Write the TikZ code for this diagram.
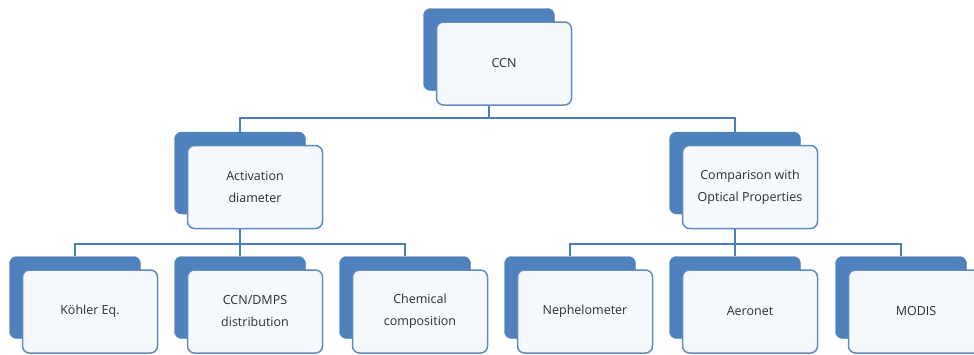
\documentclass[tikz,border=0pt]{standalone}
\usepackage{fontspec}
\setmainfont{Open Sans}
\definecolor{backblue}{HTML}{4F81BD}
\definecolor{frontline}{HTML}{5F8AC4}
\definecolor{frontfill}{HTML}{F5F8FC}
\definecolor{linkblue}{HTML}{4A7EBB}
\definecolor{textgray}{HTML}{2E2E2E}
\begin{document}
\begin{tikzpicture}[x=1pt,y=-1pt,
    backbox/.style={draw=backblue,fill=backblue,rounded corners=7pt,
      minimum width=131pt,minimum height=82pt},
    frontbox/.style={draw=frontline,fill=frontfill,line width=1.5pt,
      rounded corners=7pt,minimum width=135pt,minimum height=83pt,
      align=center,text=textgray,font=\fontsize{12.5}{22}\selectfont},
    link/.style={draw=linkblue,line width=2pt}]
    \useasboundingbox (0,0) rectangle (974,354);
    \foreach \n/\x/\y/\t in {ccn/504/63.5/CCN,
      act/255/187/{Activation\\diameter},
      cmp/750/187/{Comparison with\\Optical Properties},
      koh/90/311.5/{K\"ohler Eq.},
      dmp/255/311.5/{CCN/DMPS\\distribution},
      chm/420/311.5/{Chemical\\composition},
      nep/585/311.5/Nephelometer,
      aer/750/311.5/Aeronet,
      mod/916/311.5/MODIS}
    {
    \node[backbox] (\n b) at (\x-15,\y-14) {};
    \node[frontbox] (\n) at (\x,\y) {\t};
    }
    \coordinate (busa) at (0,118);
    \coordinate (busb) at (0,244);
    \draw[link] (ccnb.center |- ccn.south) -- (ccnb.center |- busa);
    \draw[link] (actb.north) -- (actb.north |- busa) -- (cmpb.north |- busa) -- (cmpb.north);
    \draw[link] (actb.center |- act.south) -- (dmpb.north);
    \draw[link] (kohb.north) -- (kohb.north |- busb) -- (chmb.north |- busb) -- (chmb.north);
    \draw[link] (cmpb.center |- cmp.south) -- (aerb.north);
    \draw[link] (nepb.north) -- (nepb.north |- busb) -- (modb.north |- busb) -- (modb.north);
  \end{tikzpicture}
\end{document}
